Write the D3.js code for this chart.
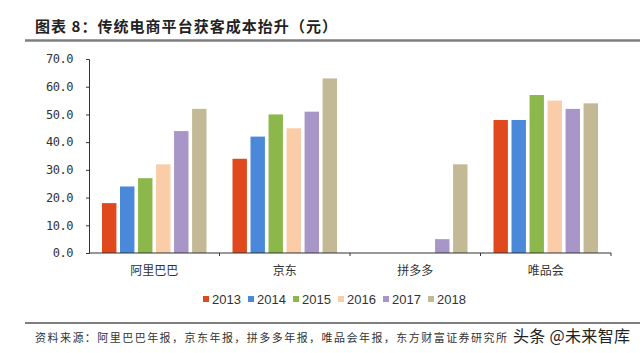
<!DOCTYPE html>
<html>
<head>
<meta charset="utf-8">
<script src="https://cdn.jsdelivr.net/npm/d3@7"></script>
<style>
  body { margin: 0; background: #fff; }
  svg { display: block; }
</style>
</head>
<body>
<svg id="chart" width="640" height="353"></svg>
<script>
const categories = ["阿里巴巴", "京东", "拼多多", "唯品会"];
const years = ["2013", "2014", "2015", "2016", "2017", "2018"];
const colors = ["#E0491D", "#4A89D9", "#8CB84B", "#FACDA8", "#A996C8", "#C3BA95"];
// one array per year, values per category
const v2013 = [18, 34, 0, 48];
const v2014 = [24, 42, 0, 48];
const v2015 = [27, 50, 0, 57];
const v2016 = [32, 45, 0, 55];
const v2017 = [44, 51, 5, 52];
const v2018 = [52, 63, 32, 54];
const yTicks = [0, 10, 20, 30, 40, 50, 60, 70];

const series = [v2013, v2014, v2015, v2016, v2017, v2018];

const size = { left: 89, right: 611, top: 59, bottom: 253 };
const svg = d3.select("#chart");
const cjk = "'Noto Sans CJK SC', sans-serif";

// title
svg.append("text")
    .attr("x", 35)
    .attr("y", 32)
    .attr("font-family", cjk)
    .attr("font-size", 15)
    .attr("font-weight", "bold")
    .attr("fill", "#222")
    .attr("textLength", 302)
    .attr("lengthAdjust", "spacing")
    .text("图表 8：传统电商平台获客成本抬升（元）");

svg.append("line")
    .attr("x1", 25).attr("x2", 640)
    .attr("y1", 40.5).attr("y2", 40.5)
    .attr("stroke", "#7f7f7f")
    .attr("stroke-width", 2.5);

const x0 = d3.scaleBand()
    .domain(categories)
    .range([size.left, size.right]);

const x1 = d3.scaleBand()
    .domain(years)
    .range([13, x0.bandwidth() - 13])
    .paddingInner(0.2);

const y = d3.scaleLinear()
    .domain([0, 70])
    .range([size.bottom, size.top]);

// bars
const groups = svg.append("g")
    .selectAll("g")
    .data(years)
    .join("g")
    .attr("fill", (d, i) => colors[i]);

groups.selectAll("rect")
    .data((d, i) => series[i].map((v, j) => ({ cat: categories[j], year: d, v: v })))
    .join("rect")
    .filter(d => d.v > 0)
    .attr("x", d => x0(d.cat) + x1(d.year))
    .attr("y", d => y(d.v))
    .attr("width", x1.bandwidth())
    .attr("height", d => y(0) - y(d.v));

// y axis
const yAxis = svg.append("g")
    .attr("transform", `translate(${size.left},0)`)
    .call(d3.axisLeft(y).tickValues(yTicks).tickSize(3).tickFormat(d3.format(".1f")));
yAxis.select(".domain").attr("stroke", "#333");
yAxis.selectAll(".tick line").attr("stroke", "#333");
yAxis.selectAll("text")
    .attr("font-family", "'DejaVu Sans Mono', monospace")
    .attr("font-size", 12)
    .attr("fill", "#333")
    .attr("x", -16)
    .attr("letter-spacing", "-0.5");

// x axis
const xAxis = svg.append("g")
    .attr("transform", `translate(0,${size.bottom})`);
xAxis.append("line")
    .attr("x1", size.left).attr("x2", size.right)
    .attr("stroke", "#333").attr("stroke-width", 1.2);
xAxis.selectAll("line.tk")
    .data(categories)
    .join("line")
    .attr("class", "tk")
    .attr("x1", d => x0(d) + x0.bandwidth())
    .attr("x2", d => x0(d) + x0.bandwidth())
    .attr("y1", 0).attr("y2", 3)
    .attr("stroke", "#333");
xAxis.selectAll("text")
    .data(categories)
    .join("text")
    .attr("x", d => x0(d) + x0.bandwidth() / 2)
    .attr("y", 22)
    .attr("text-anchor", "middle")
    .attr("font-family", cjk)
    .attr("font-size", 12)
    .attr("fill", "#333")
    .text(d => d);

// legend
const legend = svg.append("g")
    .attr("transform", "translate(203,300)");
const item = legend.selectAll("g")
    .data(years)
    .join("g")
    .attr("transform", (d, i) => `translate(${i * 45},0)`);
item.append("rect")
    .attr("x", 0).attr("y", -4)
    .attr("width", 6).attr("height", 6)
    .attr("fill", (d, i) => colors[i]);
item.append("text")
    .attr("x", 9)
    .attr("y", 4)
    .attr("font-family", "'Liberation Sans', Arial, sans-serif")
    .attr("font-size", 13)
    .attr("fill", "#333")
    .text(d => d);

// source
svg.append("line")
    .attr("x1", 25).attr("x2", 640)
    .attr("y1", 323).attr("y2", 323)
    .attr("stroke", "#7f7f7f")
    .attr("stroke-width", 2);

svg.append("text")
    .attr("x", 35)
    .attr("y", 342)
    .attr("font-family", cjk)
    .attr("font-size", 11)
    .attr("fill", "#333")
    .attr("textLength", 472)
    .attr("lengthAdjust", "spacing")
    .text("资料来源：阿里巴巴年报，京东年报，拼多多年报，唯品会年报，东方财富证券研究所");

svg.append("text")
    .attr("x", 513)
    .attr("y", 342)
    .attr("font-family", cjk)
    .attr("font-size", 16)
    .attr("fill", "#222")
    .attr("textLength", 117)
    .attr("lengthAdjust", "spacing")
    .text("头条 @未来智库");
</script>
</body>
</html>
